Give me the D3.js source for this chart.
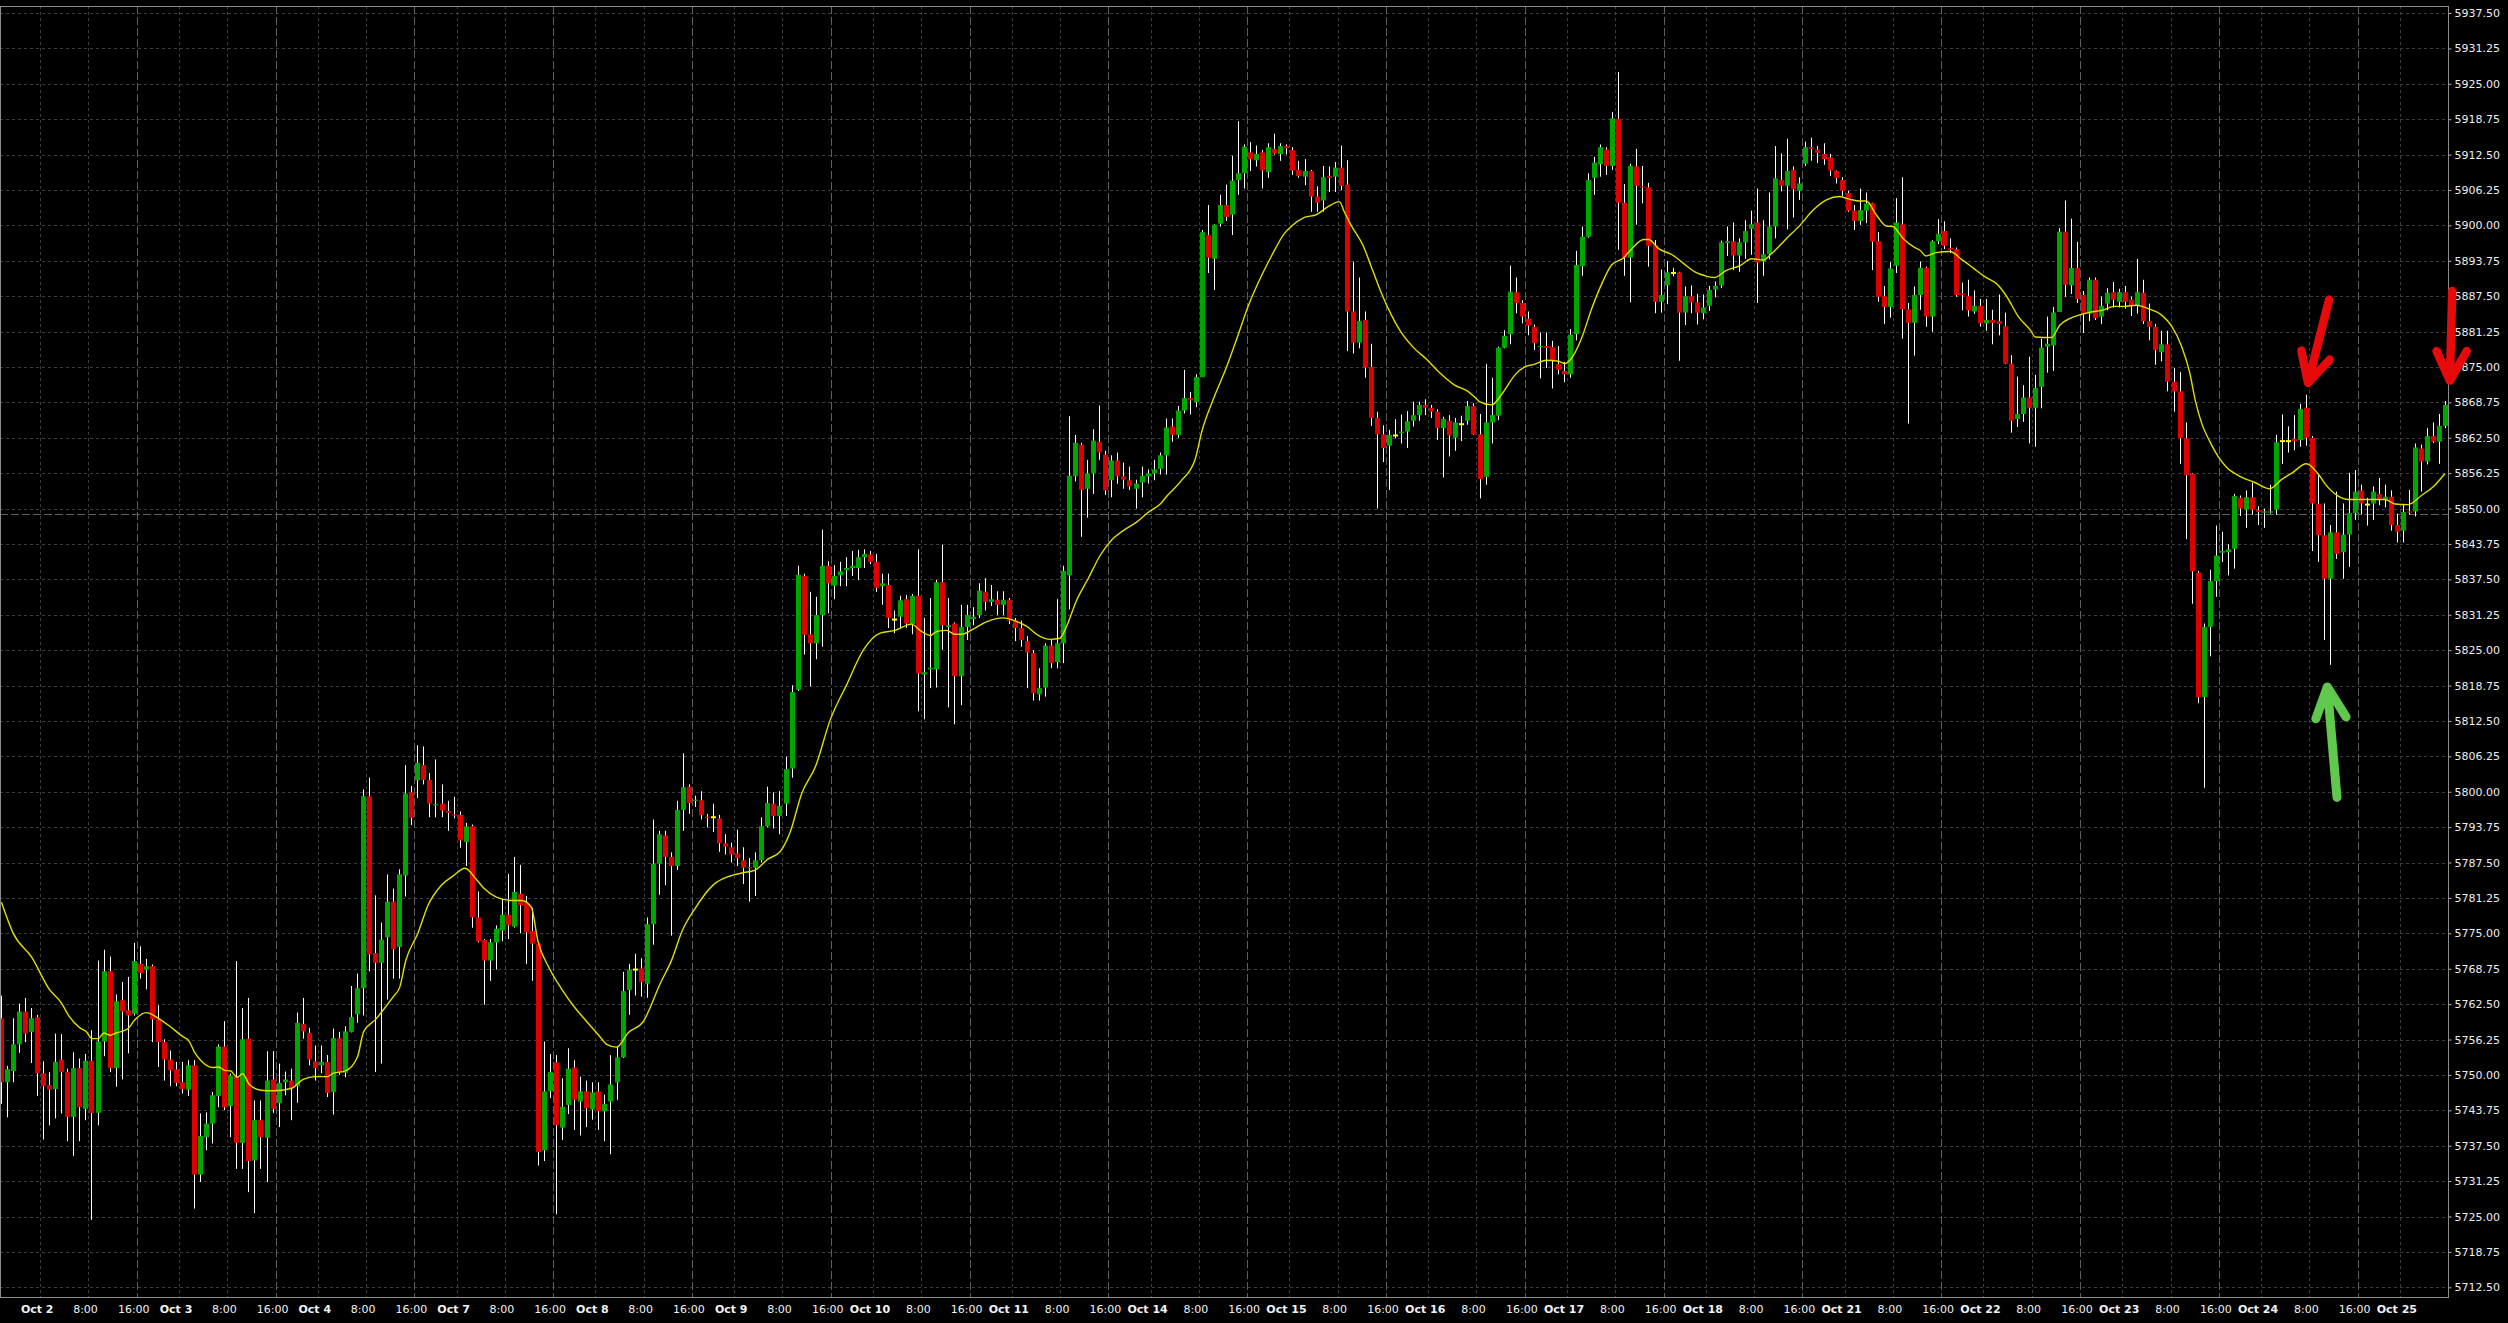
<!DOCTYPE html>
<html><head><meta charset="utf-8">
<script src="https://cdn.jsdelivr.net/npm/d3@7"></script>
<style>html,body{margin:0;padding:0;background:#000;overflow:hidden}</style>
</head><body>
<svg id="c" width="2508" height="1323"></svg>
<script>
// ---- hourly bars, Oct 1 16:00 .. Oct 25 07:00 ----
const openP = [
5760.0,5748.7,5750.7,5755.4,5761.2,5757.6,5760.2,5750.3,5748.2,5747.5,
5752.7,5750.5,5742.6,5751.2,5744.0,5752.5,5743.3,5755.9,5768.3,5751.2,
5763.2,5761.4,5760.8,5769.6,5768.6,5769.2,5759.8,5755.8,5752.7,5751.0,
5748.7,5747.4,5751.7,5732.4,5739.0,5741.4,5746.3,5755.0,5744.5,5749.7,
5738.0,5756.4,5734.9,5742.0,5738.9,5749.2,5745.0,5748.7,5749.0,5748.0,
5759.0,5757.4,5752.4,5751.7,5752.3,5747.0,5756.5,5750.4,5757.6,5760.7,
5765.3,5799.2,5771.5,5769.8,5774.3,5780.6,5772.6,5785.2,5799.9,5802.0,
5804.7,5802.1,5797.6,5797.9,5796.6,5796.0,5795.9,5791.1,5793.9,5777.8,
5773.8,5770.2,5773.4,5775.5,5778.3,5776.2,5782.0,5780.4,5775.4,5773.2,
5736.7,5747.1,5752.2,5740.7,5744.7,5751.3,5745.3,5747.1,5743.9,5747.1,
5743.6,5745.3,5748.7,5753.1,5765.0,5768.6,5768.8,5766.1,5776.6,5787.3,
5792.3,5788.5,5786.9,5796.8,5800.9,5798.4,5798.5,5795.6,5795.5,5795.3,
5790.9,5790.2,5789.1,5787.9,5786.7,5786.6,5787.9,5793.9,5797.9,5795.7,
5797.9,5804.1,5818.0,5838.1,5827.8,5826.2,5831.2,5839.9,5836.4,5838.2,
5839.1,5839.5,5839.5,5841.4,5841.9,5840.6,5836.3,5836.5,5830.4,5830.9,
5834.0,5829.6,5834.6,5820.7,5821.6,5821.6,5837.0,5829.1,5829.7,5820.4,
5829.1,5830.5,5831.2,5835.3,5833.5,5833.9,5833.0,5833.9,5830.2,5828.9,
5826.6,5824.5,5817.2,5818.4,5825.8,5822.9,5826.2,5838.2,5855.7,5861.3,
5853.5,5856.2,5861.8,5859.5,5855.0,5858.5,5855.7,5855.0,5853.5,5854.6,
5855.7,5856.2,5857.0,5859.4,5864.5,5863.0,5867.3,5869.5,5868.8,5873.2,
5898.3,5894.1,5900.3,5903.6,5901.9,5908.0,5909.2,5912.9,5911.5,5912.9,
5909.4,5913.5,5912.6,5914.0,5913.3,5909.8,5908.6,5909.6,5905.1,5904.4,
5908.7,5908.6,5910.2,5907.2,5884.8,5879.3,5883.3,5875.0,5866.0,5863.1,
5861.1,5862.9,5863.3,5863.6,5865.5,5866.5,5868.3,5867.8,5867.1,5864.2,
5865.5,5862.5,5864.9,5865.5,5868.1,5863.1,5855.6,5865.2,5866.4,5878.4,
5880.8,5888.2,5886.3,5883.5,5882.1,5878.5,5878.7,5878.5,5875.5,5874.3,
5873.7,5880.8,5892.8,5898.0,5908.4,5910.8,5913.4,5910.5,5918.8,5904.0,
5894.3,5910.4,5906.9,5906.7,5896.5,5886.5,5889.4,5891.6,5891.7,5884.6,
5887.5,5886.4,5884.5,5885.8,5888.7,5889.4,5896.9,5897.2,5894.7,5897.0,
5899.4,5900.5,5893.6,5894.9,5899.8,5908.0,5907.0,5909.8,5906.1,5910.9,
5913.8,5913.4,5912.6,5912.0,5909.6,5908.0,5905.7,5902.6,5900.8,5902.6,
5903.9,5897.2,5887.5,5885.6,5892.9,5900.2,5885.2,5882.8,5887.7,5892.5,
5883.9,5897.2,5899.0,5896.0,5895.8,5888.0,5887.5,5884.8,5885.8,5882.7,
5883.3,5883.1,5882.2,5875.6,5865.8,5866.7,5869.6,5867.8,5871.5,5878.6,
5878.8,5884.7,5898.9,5889.4,5892.5,5887.7,5884.4,5890.4,5883.9,5886.2,
5888.2,5886.5,5888.2,5886.9,5885.9,5888.1,5883.1,5882.1,5877.6,5879.0,
5872.4,5870.7,5862.4,5856.1,5838.7,5816.7,5829.1,5837.2,5842.2,5842.3,
5842.9,5851.9,5849.8,5852.0,5849.7,5849.3,5849.3,5849.8,5861.9,5861.9,
5862.3,5862.1,5867.8,5862.5,5850.8,5845.3,5837.6,5845.8,5842.3,5845.4,
5849.2,5853.2,5850.7,5850.9,5852.6,5851.7,5852.1,5847.1,5846.1,5849.5,
5849.5,5860.6,5858.3,5862.8,5861.8,5864.6];
const highP = [
5764.0,5751.6,5760.0,5762.6,5763.6,5761.8,5760.6,5752.4,5750.5,5757.3,
5757.2,5751.1,5754.0,5752.9,5753.7,5757.9,5770.2,5772.1,5770.9,5764.2,
5766.4,5767.3,5773.3,5772.7,5770.5,5769.5,5762.3,5756.3,5754.3,5752.3,
5752.3,5752.6,5752.6,5743.2,5743.4,5747.0,5755.4,5759.5,5750.2,5770.1,
5761.8,5763.6,5745.5,5745.5,5754.2,5754.2,5752.0,5750.6,5751.1,5761.0,
5763.6,5758.3,5755.2,5755.2,5753.5,5758.2,5757.6,5758.6,5765.7,5767.9,
5800.4,5802.5,5781.7,5776.9,5785.4,5782.9,5786.3,5804.7,5801.0,5808.2,
5808.0,5803.3,5805.7,5801.3,5798.4,5799.1,5796.5,5794.5,5794.2,5782.4,
5774.0,5774.0,5776.4,5781.1,5785.5,5788.5,5787.1,5781.6,5779.5,5773.4,
5755.9,5753.7,5753.5,5749.4,5754.7,5752.6,5749.7,5749.0,5748.7,5748.7,
5746.5,5753.5,5755.1,5768.2,5769.6,5771.4,5770.6,5777.8,5795.1,5793.1,
5793.1,5789.3,5798.4,5806.8,5801.3,5799.3,5800.1,5796.1,5797.9,5795.9,
5792.5,5791.0,5793.3,5790.2,5788.3,5789.3,5795.5,5800.9,5799.9,5800.1,
5806.2,5818.8,5839.9,5838.5,5835.3,5834.4,5846.3,5840.7,5840.0,5840.6,
5841.4,5842.5,5842.7,5842.8,5842.5,5842.0,5838.5,5838.5,5832.0,5834.6,
5834.7,5834.9,5842.8,5830.7,5834.2,5837.4,5843.6,5834.2,5829.9,5833.0,
5833.0,5832.6,5836.8,5837.7,5836.5,5835.4,5835.4,5834.2,5830.7,5830.2,
5827.5,5825.0,5821.8,5826.2,5826.9,5834.0,5839.9,5866.3,5863.0,5861.6,
5858.6,5864.0,5868.2,5860.2,5859.4,5859.9,5858.1,5857.4,5855.1,5857.4,
5856.9,5858.6,5859.9,5865.9,5865.9,5868.1,5874.5,5870.6,5873.7,5899.2,
5903.6,5900.2,5905.4,5907.2,5912.3,5918.4,5914.3,5914.7,5914.1,5913.3,
5914.5,5916.2,5914.5,5914.3,5913.8,5911.4,5911.7,5909.8,5906.9,5910.5,
5910.4,5911.2,5914.1,5911.5,5893.6,5890.8,5884.8,5879.1,5867.1,5864.7,
5863.9,5865.8,5866.6,5867.2,5868.9,5868.9,5869.3,5868.3,5867.5,5866.2,
5866.5,5866.0,5866.4,5869.0,5868.6,5866.7,5875.5,5873.1,5878.6,5881.5,
5892.9,5890.8,5886.8,5884.8,5882.5,5881.1,5881.1,5879.6,5878.7,5875.9,
5881.7,5895.5,5899.8,5909.2,5912.1,5914.3,5913.8,5920.0,5927.1,5907.3,
5910.9,5913.5,5910.5,5907.5,5897.4,5892.2,5893.7,5892.5,5891.8,5889.2,
5889.4,5887.9,5887.8,5889.3,5890.1,5897.3,5899.8,5900.5,5897.7,5900.9,
5902.6,5906.5,5900.9,5905.8,5914.0,5912.7,5915.3,5910.4,5908.5,5914.8,
5915.5,5914.0,5914.5,5912.6,5909.7,5908.5,5906.1,5903.6,5906.5,5905.8,
5904.0,5898.8,5889.3,5893.5,5904.8,5908.5,5886.3,5889.2,5893.6,5892.7,
5897.4,5901.1,5900.7,5897.7,5896.1,5889.9,5890.4,5888.5,5887.0,5887.0,
5885.1,5887.8,5884.6,5877.1,5873.3,5871.8,5876.8,5873.6,5880.0,5883.9,
5885.6,5899.5,5904.4,5901.2,5897.1,5888.4,5890.8,5890.8,5887.4,5888.9,
5890.0,5888.8,5889.3,5887.4,5894.1,5890.4,5886.2,5882.6,5881.4,5881.4,
5874.8,5874.1,5865.2,5856.2,5839.0,5829.7,5839.2,5847.0,5845.9,5843.7,
5852.6,5852.3,5853.2,5854.6,5850.4,5850.0,5854.2,5863.0,5866.6,5864.5,
5866.5,5868.5,5870.1,5862.8,5856.2,5850.9,5847.1,5853.0,5850.9,5856.3,
5856.8,5854.2,5851.9,5853.9,5855.4,5854.2,5853.2,5849.1,5850.7,5853.3,
5861.5,5861.3,5864.2,5865.2,5866.7,5869.0];
const lowP = [
5744.9,5742.5,5748.7,5753.9,5755.8,5752.1,5746.3,5738.6,5741.1,5742.3,
5743.2,5738.3,5735.7,5738.3,5742.0,5724.4,5741.1,5753.3,5750.5,5747.9,
5749.2,5753.8,5760.5,5767.0,5765.1,5755.8,5751.4,5749.0,5748.0,5748.0,
5746.7,5746.3,5726.4,5731.1,5736.7,5737.9,5744.3,5743.8,5739.0,5733.4,
5733.4,5729.3,5725.6,5733.4,5731.1,5743.3,5740.8,5746.4,5742.0,5745.1,
5756.4,5751.7,5749.0,5750.3,5746.1,5743.0,5750.0,5749.6,5757.5,5759.2,
5760.5,5768.3,5750.5,5752.0,5763.3,5767.0,5767.0,5781.5,5794.1,5798.9,
5801.3,5795.5,5795.5,5795.5,5793.1,5795.3,5790.1,5786.9,5776.0,5773.4,
5762.4,5766.6,5768.6,5773.6,5774.0,5776.0,5775.0,5769.6,5766.6,5734.0,
5734.8,5745.9,5725.4,5738.5,5743.1,5740.3,5739.3,5740.8,5742.1,5740.3,
5738.3,5736.0,5745.6,5753.0,5760.6,5764.0,5763.8,5763.6,5773.0,5781.8,
5783.5,5774.6,5786.2,5793.1,5796.1,5797.3,5795.1,5793.7,5792.9,5789.4,
5788.9,5787.5,5786.9,5783.7,5780.6,5781.6,5787.5,5793.7,5793.5,5792.5,
5795.7,5802.5,5817.8,5824.2,5818.6,5823.4,5825.6,5831.5,5834.0,5836.3,
5836.3,5838.1,5837.4,5839.5,5840.2,5835.3,5833.0,5828.9,5828.0,5828.9,
5828.9,5827.8,5814.2,5812.8,5818.3,5818.4,5825.1,5814.9,5811.9,5815.3,
5826.8,5829.4,5830.7,5832.0,5832.8,5831.2,5831.2,5829.6,5826.6,5825.6,
5818.3,5816.1,5816.1,5816.8,5821.8,5821.8,5822.7,5832.2,5854.8,5845.0,
5848.4,5852.6,5858.6,5852.4,5852.0,5854.4,5853.5,5853.3,5850.0,5852.0,
5854.4,5855.0,5856.0,5856.0,5861.8,5862.5,5866.8,5866.6,5867.9,5873.2,
5891.6,5888.6,5899.8,5900.8,5898.3,5905.4,5906.5,5909.6,5910.4,5906.5,
5908.4,5912.5,5911.4,5912.5,5908.9,5908.4,5907.1,5902.4,5902.4,5902.4,
5905.9,5905.9,5906.2,5877.8,5877.4,5878.3,5873.1,5864.6,5850.0,5858.2,
5853.3,5862.4,5861.5,5860.7,5864.5,5865.5,5866.5,5866.0,5862.1,5855.5,
5859.2,5860.2,5861.9,5864.8,5863.0,5851.8,5854.2,5861.5,5865.6,5878.3,
5879.0,5884.5,5882.7,5880.6,5878.0,5873.0,5874.8,5871.2,5873.7,5872.3,
5873.1,5879.7,5891.1,5897.8,5905.4,5908.6,5908.9,5909.8,5895.7,5891.1,
5886.4,5900.1,5903.9,5892.7,5884.5,5884.6,5886.1,5891.0,5876.1,5882.4,
5884.5,5882.5,5883.4,5884.9,5887.3,5888.9,5894.6,5892.1,5891.8,5894.1,
5894.8,5886.3,5891.1,5894.0,5897.7,5906.0,5899.3,5901.4,5904.5,5910.5,
5911.4,5911.0,5910.7,5908.7,5907.4,5905.2,5902.4,5899.2,5900.1,5900.4,
5892.1,5886.5,5882.6,5883.7,5891.6,5880.0,5865.0,5877.0,5885.1,5882.1,
5881.2,5896.7,5895.8,5895.1,5887.4,5885.0,5883.9,5884.4,5882.1,5881.4,
5879.0,5880.6,5875.5,5863.4,5864.4,5865.3,5861.5,5860.9,5867.7,5874.0,
5874.3,5884.7,5887.4,5887.9,5886.3,5881.0,5883.1,5883.3,5882.6,5885.0,
5885.5,5885.5,5885.3,5884.0,5884.4,5882.6,5879.7,5875.4,5876.0,5870.7,
5867.1,5857.9,5844.6,5833.2,5815.6,5800.7,5823.9,5834.4,5840.6,5838.2,
5839.4,5848.7,5846.6,5848.9,5847.1,5846.6,5849.1,5848.9,5857.9,5859.9,
5860.3,5860.9,5861.1,5842.5,5840.6,5826.8,5822.4,5841.1,5837.6,5839.7,
5848.0,5849.0,5847.0,5848.0,5850.6,5850.2,5846.1,5844.0,5844.0,5848.9,
5848.6,5853.0,5857.8,5861.6,5857.9,5864.2];
const closeP = [
5748.7,5751.0,5755.4,5761.2,5757.3,5760.0,5750.3,5748.0,5747.4,5752.3,
5750.5,5742.6,5751.2,5744.3,5752.5,5743.3,5755.9,5768.3,5751.2,5763.0,
5761.2,5760.5,5770.1,5768.0,5769.2,5759.8,5755.8,5752.7,5750.8,5748.6,
5747.5,5751.7,5732.4,5739.2,5741.4,5746.4,5755.0,5744.3,5749.9,5738.0,
5756.3,5734.8,5742.0,5739.0,5749.0,5744.0,5748.6,5749.2,5747.7,5759.2,
5757.7,5752.7,5751.2,5752.3,5746.8,5756.5,5750.4,5757.7,5760.2,5765.3,
5799.2,5771.3,5769.8,5773.9,5780.6,5772.2,5785.4,5799.7,5795.4,5805.1,
5802.1,5797.9,5797.8,5796.7,5796.3,5795.8,5791.4,5793.9,5777.8,5773.6,
5770.2,5773.4,5775.8,5778.3,5776.4,5782.3,5780.0,5775.2,5773.2,5736.4,
5747.1,5750.5,5741.1,5744.4,5751.1,5745.6,5747.1,5744.1,5746.9,5743.6,
5744.9,5748.3,5753.1,5764.8,5768.6,5768.6,5766.4,5776.6,5787.3,5792.5,
5788.5,5786.9,5796.8,5800.8,5798.0,5798.6,5795.9,5795.5,5795.5,5790.9,
5790.3,5788.9,5788.3,5786.6,5786.5,5787.9,5793.9,5798.0,5795.7,5797.5,
5804.0,5817.6,5838.3,5827.7,5826.2,5831.2,5839.9,5836.8,5838.1,5838.9,
5839.5,5839.9,5841.4,5842.0,5840.6,5836.0,5836.8,5830.7,5830.4,5833.8,
5829.7,5834.6,5820.9,5821.1,5821.9,5837.0,5829.4,5829.4,5820.4,5829.1,
5831.2,5830.9,5835.5,5833.5,5834.0,5833.0,5833.9,5830.2,5828.9,5826.8,
5824.6,5817.4,5818.3,5825.8,5822.7,5826.2,5839.0,5855.8,5861.6,5853.3,
5856.2,5862.0,5859.9,5853.2,5858.5,5855.7,5855.1,5853.9,5854.4,5855.8,
5856.2,5856.9,5859.4,5864.3,5863.0,5867.3,5869.5,5869.1,5873.2,5898.8,
5894.3,5900.1,5903.6,5901.5,5907.9,5909.2,5913.9,5911.7,5912.6,5909.7,
5913.8,5912.7,5914.0,5913.6,5909.7,5908.7,5909.6,5905.1,5904.0,5908.5,
5908.4,5910.2,5907.0,5884.8,5879.3,5883.1,5874.9,5866.0,5863.1,5860.7,
5863.0,5862.9,5863.6,5865.4,5866.5,5868.3,5867.8,5867.1,5864.2,5865.8,
5862.9,5865.2,5864.9,5868.1,5863.1,5855.2,5865.2,5866.5,5878.4,5880.5,
5888.3,5886.3,5883.9,5882.3,5879.2,5878.7,5878.4,5876.1,5874.5,5873.7,
5880.7,5893.0,5898.0,5908.0,5911.1,5913.8,5910.5,5918.9,5904.0,5894.3,
5910.5,5907.0,5906.7,5896.4,5886.5,5887.7,5891.7,5891.6,5884.6,5887.5,
5886.4,5884.6,5885.5,5888.6,5889.3,5897.0,5897.2,5894.7,5897.0,5899.0,
5900.2,5893.4,5894.9,5899.8,5908.3,5907.0,5909.6,5906.4,5907.4,5913.8,
5913.5,5912.8,5911.7,5909.7,5908.4,5906.1,5902.6,5900.8,5902.7,5903.9,
5897.1,5887.4,5885.6,5892.4,5900.5,5885.2,5882.8,5887.7,5892.5,5883.9,
5897.2,5898.5,5896.4,5895.7,5887.7,5887.7,5885.0,5885.8,5882.7,5883.3,
5882.8,5882.6,5875.6,5865.5,5866.7,5869.6,5867.8,5871.3,5878.4,5879.1,
5884.6,5898.9,5889.5,5892.5,5887.0,5884.3,5890.4,5883.6,5885.8,5888.1,
5886.9,5888.2,5886.5,5885.8,5888.2,5883.1,5882.1,5878.0,5879.0,5872.4,
5870.7,5862.4,5855.9,5838.9,5816.7,5829.1,5837.2,5841.7,5842.5,5842.8,
5852.2,5850.0,5852.0,5849.8,5849.4,5849.5,5849.5,5861.7,5861.9,5861.9,
5861.9,5867.6,5862.5,5850.9,5845.3,5837.6,5845.8,5842.0,5845.4,5849.2,
5853.0,5850.9,5850.7,5853.0,5851.7,5852.1,5847.1,5845.9,5849.4,5849.3,
5860.8,5858.3,5862.8,5861.8,5864.6,5868.3];

// ---- moving average (bar position, price) ----
const maIdx = [0,2,5,8,10,11,13,14,15,16,17,18,19,21,22,24,26,28,30,31,32,33,35,36,37,38,39,40,41,43,45,48,50,52,54,55,57,59,60,62,64,65,66,67,69,
70.7,72.9,74.8,76.8,78.7,79.9,82,84.6,86.2,87.8,88.9,90.8,92.8,95,97,98.9,100.3,101.9,103.9,106.4,107.2,109.1,111.1,112.7,115,118,120.4,122.9,124.8,127,129,130.7,132.6,134.9,
137.3,140.1,142.8,145.6,148.1,150.8,152.2,153.9,155,156.6,158,159.1,161,163.2,166,167.9,169.9,171.8,173.8,175.4,176.2,178.2,180.1,182.1,184,186,188.2,190.1,192.1,193.2,195.4,197.8,198.9,200.8,203,204.9,206.5,
208.3,210.4,212.6,213.7,215.9,217.9,219.8,221.7,222.5,223.6,225.6,227.3,228.6,230.3,231.7,233.9,236.1,238.1,240.8,243,244.1,244.9,246.9,248.8,250.8,252.4,254.1,256,258,259.1,259.9,261.8,263.5,265.1,266.8,268.7,270.1,272.1,272.9,274.7,
276.7,278.7,280.6,282.3,283.8,285.9,288.1,290,292,293.1,295.8,298,300.2,302.4,304.6,306.3,307.9,309,310.7,312.3,313.4,315.1,317,317.9,318.9,320.6,322.9,324.8,326.7,328.7,330.9,332.3,334.2,336.2,337,339.7,341.1,342.8,344.4,
345.8,348,350.2,351.8,353.8,355.7,357.9,359.6,361.2,362.6,363.5,364.6,365.9,367.3,368.7,370.9,373.4,375.9,377.8,379.7,381.9,383.9,385,387.2,388.9,391.6,395,396.6,398.8,401,403,404.9];
const maVal = [5780.5,5774.9,5770.8,5765.0,5762.6,5760.7,5758.3,5757.7,5756.4,5756.4,5757.4,5757.0,5757.4,5758.2,5759.6,5761.0,5760.0,5758.5,5756.8,5756.1,5754.0,5752.6,5751.3,5751.4,5750.8,5750.7,5749.6,5750.2,5748.4,5747.3,5747.2,5747.6,5749.2,5749.7,5749.7,5750.3,5750.7,5753.2,5757.6,5759.8,5762.5,5763.9,5765.5,5770.2,5775.0,
5780.0,5783.5,5785.1,5786.5,5784.5,5783.0,5781.4,5780.8,5780.8,5779.6,5773.6,5768.8,5765.2,5761.9,5759.4,5757.1,5755.4,5754.9,5757.5,5759.5,5761.2,5766.0,5770.4,5775.2,5779.5,5783.6,5785.0,5785.7,5786.1,5788.1,5789.4,5792.9,5799.7,5804.5,
5812.6,5819.0,5825.0,5828.0,5828.5,5829.6,5828.5,5827.6,5828.3,5828.5,5827.8,5827.8,5828.7,5830.0,5830.7,5830.2,5829.2,5827.6,5826.9,5827.1,5828.5,5833.9,5837.7,5841.8,5844.5,5846.2,5847.7,5849.4,5850.9,5852.3,5854.8,5858.7,5863.6,5869.3,5875.0,5880.6,5885.5,
5890.0,5894.5,5898.6,5899.8,5901.4,5901.9,5903.3,5904.2,5902.4,5900.1,5896.5,5891.8,5888.2,5884.2,5881.5,5878.5,5876.4,5874.2,5871.8,5870.7,5869.7,5868.9,5868.3,5870.5,5873.6,5875.0,5875.5,5876.2,5876.0,5875.6,5876.2,5880.0,5885.3,5889.5,5893.0,5894.2,5895.8,5897.5,5897.5,5895.8,
5894.9,5893.3,5891.8,5891.1,5890.8,5892.1,5892.9,5894.1,5893.9,5894.8,5897.7,5900.0,5902.7,5904.5,5905.1,5904.6,5904.3,5904.3,5901.8,5899.9,5899.8,5897.7,5896.1,5895.6,5894.6,5895.2,5895.4,5894.0,5892.5,5890.9,5889.4,5887.4,5883.9,5881.5,5880.3,5880.2,5882.4,5883.6,5884.2,
5884.6,5885.0,5885.7,5885.7,5885.9,5885.3,5884.2,5882.2,5878.8,5874.0,5869.2,5865.0,5861.9,5859.2,5857.3,5855.7,5854.6,5853.5,5855.1,5856.4,5857.9,5856.1,5854.4,5852.2,5851.6,5851.6,5851.6,5850.8,5850.7,5852.3,5853.9,5856.2];

// ---- axis labels ----
const sessionLabels = ["Oct 2","Oct 3","Oct 4","Oct 7","Oct 8","Oct 9","Oct 10","Oct 11","Oct 14","Oct 15","Oct 16","Oct 17","Oct 18","Oct 21","Oct 22","Oct 23","Oct 24","Oct 25"];
const hourLabels = ["8:00","16:00"];
const hourOffsets = [8,16];          // bars after midnight
const firstMidnightBar = 7;          // bar index of Oct 2 00:00
const barsPerSession = 23;
const yTicks = d3.range(5712.5, 5937.5 + 0.01, 6.25);
const hLinePrice = [5849];           // horizontal line object

// ---- hand-drawn annotation arrows (bar position, price) ----
const redArrows = [
  {top:[385.7,5886.9], tip:[382.2,5872.2], armA:[381.1,5877.9], armB:[385.8,5876.3]},
  {top:[406.1,5888.4], tip:[405.7,5872.6], armA:[403.5,5877.8], armB:[408.5,5877.8]}
];
const greenArrows = [
  {top:[387.0,5799.0], tip:[385.4,5818.5], armA:[383.5,5812.9], armB:[388.5,5813.2]}
];

// ================= drawing =================
const PW = 2448, PT = 6, PB = 1297;
const x = d3.scaleLinear().domain([0, 405]).range([1.465, 2445.6]);
const y = d3.scaleLinear().domain([5712.5, 5937.5]).range([1287.3, 13]);
const svg = d3.select('#c');
svg.append('rect').attr('width', 2508).attr('height', 1323).attr('fill', '#000');
svg.append('defs').append('clipPath').attr('id', 'clip')
  .append('rect').attr('x', 0).attr('y', PT).attr('width', PW).attr('height', PB - PT);

// vertical ticks
const vt = [];
sessionLabels.forEach((lab, d) => {
  const base = firstMidnightBar + d * barsPerSession;
  vt.push({i: base, label: lab, kind: 'day'});
  hourOffsets.forEach((h, k) => vt.push({i: base + h, label: hourLabels[k], kind: k === 1 ? 'sep' : 'hour'}));
});
const vticks = vt.filter(t => x(t.i - 0.5) < PW - 1).sort((a, b) => a.i - b.i);

const grid = svg.append('g');
grid.selectAll('line.h').data(yTicks).join('line')
  .attr('x1', 0).attr('x2', PW)
  .attr('y1', d => Math.round(y(d)) + 0.5).attr('y2', d => Math.round(y(d)) + 0.5)
  .attr('stroke', '#3d3d3d').attr('stroke-width', 1).attr('stroke-dasharray', '3,3');
grid.selectAll('line.v').data(vticks).join('line')
  .attr('x1', d => Math.floor(x(d.i - 0.5)) + 0.5).attr('x2', d => Math.floor(x(d.i - 0.5)) + 0.5)
  .attr('y1', PT).attr('y2', PB)
  .attr('stroke', d => d.kind === 'sep' ? '#5e5e5e' : '#3d3d3d')
  .attr('stroke-dasharray', d => d.kind === 'sep' ? '8,3' : '3,3');
grid.selectAll('line.hl').data(hLinePrice).join('line')
  .attr('x1', 0).attr('x2', PW)
  .attr('y1', d => Math.round(y(d)) + 0.5).attr('y2', d => Math.round(y(d)) + 0.5)
  .attr('stroke', '#5e5e5e').attr('stroke-dasharray', '8,3');

// candles
const bars = d3.range(openP.length).map(i => ({i, o: openP[i], h: highP[i], l: lowP[i], c: closeP[i]}));
const cg = svg.append('g').attr('clip-path', 'url(#clip)');
const left = d => Math.floor(x(d.i)) - 2;
cg.selectAll('line.w').data(bars).join('line')
  .attr('x1', d => left(d) + 2.5).attr('x2', d => left(d) + 2.5)
  .attr('y1', d => y(d.h)).attr('y2', d => y(d.l))
  .attr('stroke', '#ffffff').attr('stroke-width', 1);
cg.selectAll('rect.b').data(bars).join('rect')
  .attr('x', d => left(d)).attr('width', 5)
  .attr('y', d => d.o === d.c ? y(d.o) - 1 : y(Math.max(d.o, d.c)))
  .attr('height', d => d.o === d.c ? 2 : Math.max(1.2, y(Math.min(d.o, d.c)) - y(Math.max(d.o, d.c))))
  .attr('fill', d => d.c > d.o ? '#00a600' : (d.c < d.o ? '#dc0000' : '#ffff00'));

// moving average
const maPts = maIdx.map((v, k) => [v, maVal[k]]);
cg.append('path').datum(maPts)
  .attr('d', d3.line().x(d => x(d[0])).y(d => y(d[1])).curve(d3.curveMonotoneX))
  .attr('fill', 'none').attr('stroke', '#dede00').attr('stroke-width', 1.4);

// frame
svg.append('rect').attr('x', 0.5).attr('y', PT + 0.5).attr('width', PW).attr('height', PB - PT)
  .attr('fill', 'none').attr('stroke', '#8c8c8c').attr('stroke-width', 1);

// y axis (right)
const yAxis = svg.append('g').attr('transform', `translate(${PW + 0.5},0)`)
  .call(d3.axisRight(y).tickValues(yTicks).tickFormat(d => d.toFixed(2)).tickSize(3).tickPadding(3));
yAxis.select('.domain').remove();
yAxis.selectAll('.tick line').attr('stroke', '#b0b0b0');
yAxis.selectAll('.tick text').attr('fill', '#eeeeee')
  .style('font-family', '"DejaVu Sans", Verdana, sans-serif').style('font-size', '11px');

// x axis (bottom)
const xAxis = svg.append('g').attr('transform', `translate(0,${PB + 0.5})`)
  .call(d3.axisBottom(x).tickValues(vticks.map(t => t.i - 0.5)).tickSize(0)
    .tickFormat((d, k) => vticks[k].label));
xAxis.select('.domain').remove();
xAxis.selectAll('.tick text')
  .attr('y', 15.5).attr('dy', 0).attr('dx', -4)
  .attr('fill', '#f2f2f2')
  .style('font-family', '"DejaVu Sans", Verdana, sans-serif').style('font-size', '11px')
  .style('font-weight', (d, k) => vticks[k].kind === 'day' ? 'bold' : 'normal');

// arrows
function drawArrow(a, color, w) {
  const P = p => [x(p[0]), y(p[1])];
  const path = d3.path();
  const t = P(a.top), tip = P(a.tip), aa = P(a.armA), ab = P(a.armB);
  path.moveTo(t[0], t[1]); path.lineTo(tip[0], tip[1]);
  path.moveTo(aa[0], aa[1]); path.lineTo(tip[0], tip[1]); path.lineTo(ab[0], ab[1]);
  svg.append('path').attr('d', path.toString()).attr('fill', 'none')
    .attr('stroke', color).attr('stroke-width', w)
    .attr('stroke-linecap', 'round').attr('stroke-linejoin', 'round');
}
redArrows.forEach(a => drawArrow(a, '#e80a0a', 8.5));
greenArrows.forEach(a => drawArrow(a, '#60c84c', 9));
</script>
</body></html>
